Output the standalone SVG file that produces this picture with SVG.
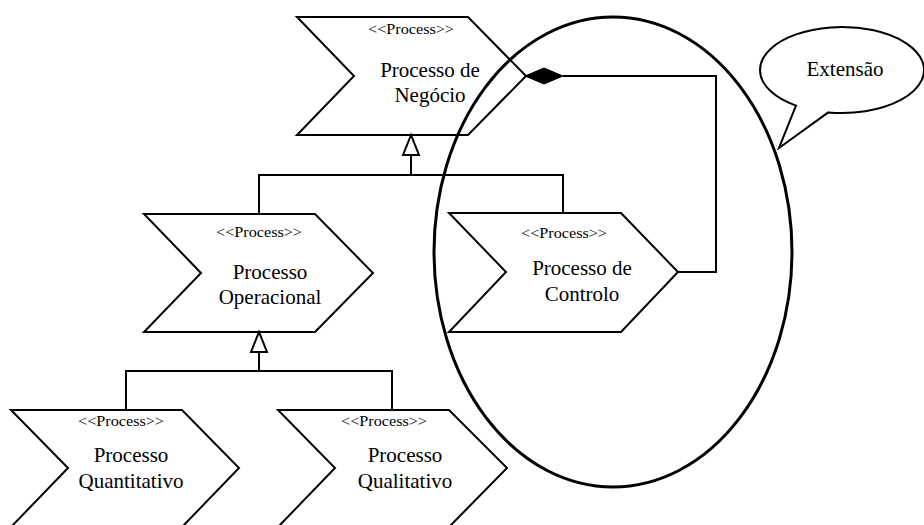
<svg xmlns="http://www.w3.org/2000/svg" width="924" height="525" viewBox="0 0 924 525">
  <style>
    .shape { fill: none; stroke: #000; stroke-width: 2; stroke-linejoin: miter; }
    .line { fill: none; stroke: #000; stroke-width: 2; }
    .arrow { fill: #fff; stroke: #000; stroke-width: 2; }
    .diamond { fill: #000; stroke: #000; stroke-width: 1; }
    text { font-family: 'Liberation Serif', 'DejaVu Serif', serif; fill: #000; text-anchor: middle; }
    .stereo { font-size: 14.5px; }
    .name { font-size: 21px; }
    .boundary { fill: none; stroke: #000; stroke-width: 3; }
  </style>
  <rect width="924" height="525" fill="#fff"/>

  <!-- connectors: generalizations and composition -->
  <g id="connectors">
    <polyline class="line" points="259,214 259,175 563,175 563,213"/>
    <line class="line" x1="411" y1="155" x2="411" y2="175"/>
    <polygon class="arrow" points="411,135 403,155 419,155"/>

    <polyline class="line" points="126,410 126,371 392,371 392,410"/>
    <line class="line" x1="259" y1="352" x2="259" y2="371"/>
    <polygon class="arrow" points="259,332 251,352 267,352"/>

    <polyline class="line" points="563,76 716,76 716,272 678,272"/>
    <polygon class="diamond" points="525,76 544,68 563,76 544,84"/>
  </g>

  <g id="processo-negocio">
    <polygon class="shape" points="297,17 468,17 526,76 468,135 297,135 354,76"/>
    <text class="stereo" x="411" y="34" textLength="86" lengthAdjust="spacingAndGlyphs">&lt;&lt;Process&gt;&gt;</text>
    <text class="name" x="430" y="77">Processo de</text>
    <text class="name" x="430" y="102">Negócio</text>
  </g>

  <g id="processo-operacional">
    <polygon class="shape" points="144,214 315,214 373,273 315,332 144,332 201,273"/>
    <text class="stereo" x="259" y="237" textLength="86" lengthAdjust="spacingAndGlyphs">&lt;&lt;Process&gt;&gt;</text>
    <text class="name" x="270" y="279">Processo</text>
    <text class="name" x="270" y="304">Operacional</text>
  </g>

  <g id="processo-controlo">
    <polygon class="shape" points="449,213 621,213 678,272 621,332 449,332 506,272"/>
    <text class="stereo" x="564" y="238" textLength="86" lengthAdjust="spacingAndGlyphs">&lt;&lt;Process&gt;&gt;</text>
    <text class="name" x="582" y="275">Processo de</text>
    <text class="name" x="582" y="301">Controlo</text>
  </g>

  <g id="processo-quantitativo">
    <polygon class="shape" points="11,410 182,410 239,468 182,527 11,527 68,468"/>
    <text class="stereo" x="121" y="426" textLength="86" lengthAdjust="spacingAndGlyphs">&lt;&lt;Process&gt;&gt;</text>
    <text class="name" x="131" y="462">Processo</text>
    <text class="name" x="131" y="488">Quantitativo</text>
  </g>

  <g id="processo-qualitativo">
    <polygon class="shape" points="278,410 449,410 507,468 449,527 278,527 335,468"/>
    <text class="stereo" x="384" y="426" textLength="86" lengthAdjust="spacingAndGlyphs">&lt;&lt;Process&gt;&gt;</text>
    <text class="name" x="405" y="462">Processo</text>
    <text class="name" x="405" y="488">Qualitativo</text>
  </g>

  <!-- extension boundary -->
  <g id="extensao-boundary">
    <ellipse class="boundary" cx="613" cy="252" rx="179" ry="235"/>
  </g>

  <!-- callout naming the boundary -->
  <g id="extensao-callout">
    <path class="shape" d="M796,105.6 L779,148 L828.3,112.4 A82,43 0 1 0 796,105.6 Z"/>
    <text class="name" x="845" y="76">Extensão</text>
  </g>
</svg>
